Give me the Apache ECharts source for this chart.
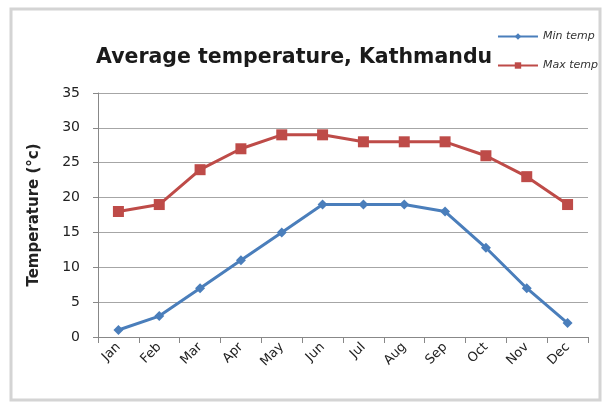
<!DOCTYPE html>
<html>
<head>
<meta charset="utf-8">
<script src="https://cdn.jsdelivr.net/npm/echarts@6/dist/echarts.min.js"></script>
<style>
  html, body { margin: 0; padding: 0; background: #fff; }
  #chart { width: 611px; height: 408px; }
</style>
</head>
<body>
<div id="chart"></div>
<script>
const months = ['Jan', 'Feb', 'Mar', 'Apr', 'May', 'Jun', 'Jul', 'Aug', 'Sep', 'Oct', 'Nov', 'Dec']
const minTemp = [1, 3, 7, 11, 15, 19, 19, 19, 18, 12.8, 7, 2]
const maxTemp = [18, 19, 24, 27, 29, 29, 28, 28, 28, 26, 23, 19]
const yTicks = [0, 5, 10, 15, 20, 25, 30, 35]

const blue = '#4a7ebb'
const red = '#be4b48'
const font = 'DejaVu Sans'

const myChart = echarts.init(document.getElementById('chart'))
const option = {
  animation: false,
  graphic: [
    {
      type: 'rect',
      shape: { x: 11, y: 9, width: 589, height: 391 },
      style: { fill: 'none', stroke: '#d4d4d4', lineWidth: 3 }
    }
  ],
  title: {
    text: 'Average temperature, Kathmandu',
    left: 91,
    top: 42,
    textStyle: {
      fontFamily: font,
      fontSize: 20.5,
      fontWeight: 'bold',
      color: '#1a1a1a'
    }
  },
  legend: {
    orient: 'vertical',
    right: 8,
    top: 26,
    itemGap: 18,
    itemWidth: 40,
    itemHeight: 8,
    textStyle: {
      fontFamily: font,
      fontSize: 11,
      fontStyle: 'italic',
      color: '#333'
    },
    data: ['Min temp', 'Max temp']
  },
  grid: {
    left: 98,
    right: 23,
    top: 93,
    bottom: 71
  },
  xAxis: {
    type: 'category',
    data: months,
    boundaryGap: true,
    axisLine: { lineStyle: { color: '#888', width: 1 } },
    axisTick: {
      show: true,
      length: 6,
      inside: false,
      lineStyle: { color: '#888' }
    },
    axisLabel: {
      rotate: 45,
      margin: 8,
      fontFamily: font,
      fontSize: 13,
      color: '#222'
    },
    splitLine: { show: false }
  },
  yAxis: {
    type: 'value',
    min: yTicks[0],
    max: yTicks[yTicks.length - 1],
    interval: 5,
    name: 'Temperature (°c)',
    nameLocation: 'middle',
    nameGap: 56,
    nameRotate: 90,
    nameTextStyle: {
      fontFamily: font,
      fontSize: 15,
      fontWeight: 'bold',
      color: '#222'
    },
    axisLine: { show: true, lineStyle: { color: '#888', width: 1 } },
    axisTick: { show: true, length: 5, lineStyle: { color: '#888' } },
    axisLabel: {
      margin: 18,
      fontFamily: font,
      fontSize: 14,
      color: '#222'
    },
    splitLine: { lineStyle: { color: '#a6a6a6', width: 1 } }
  },
  series: [
    {
      name: 'Min temp',
      type: 'line',
      data: minTemp,
      symbol: 'diamond',
      symbolSize: 10,
      color: blue,
      lineStyle: { color: blue, width: 3 },
      itemStyle: { color: blue }
    },
    {
      name: 'Max temp',
      type: 'line',
      data: maxTemp,
      symbol: 'rect',
      symbolSize: 11,
      color: red,
      lineStyle: { color: red, width: 3 },
      itemStyle: { color: red }
    }
  ]
}
myChart.setOption(option)
</script>
</body>
</html>
